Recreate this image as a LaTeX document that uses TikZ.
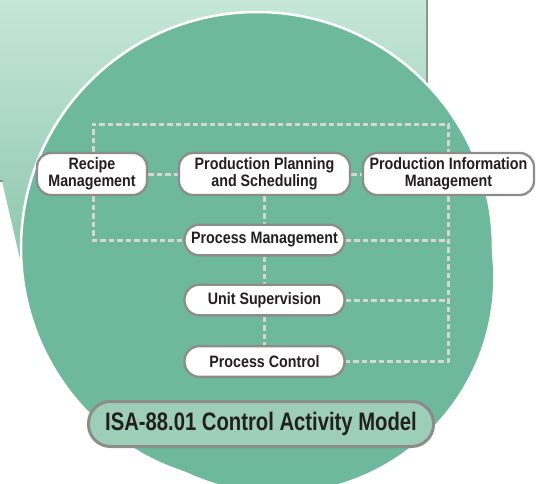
\documentclass[tikz,border=0pt]{standalone}
\usepackage{fontspec}
\newfontfamily\boxfont[FakeStretch=0.865]{Liberation Sans}
\newfontfamily\titlefont[FakeStretch=0.8]{Liberation Sans}
\definecolor{bigGreen}{HTML}{6EB89E}
\definecolor{paleTop}{HTML}{C6E6DA}
\definecolor{paleBottom}{HTML}{88C4AB}
\definecolor{frameGray}{HTML}{8A9892}
\definecolor{boxGray}{HTML}{8C8C8C}
\definecolor{dashGray}{HTML}{D4D7D5}
\definecolor{titleFill}{HTML}{9DCFB8}
\definecolor{textDark}{HTML}{231F20}
\pgfdeclarelayer{backdrop}
\pgfdeclarelayer{links}
\pgfsetlayers{backdrop,links,main}
\tikzset{
  box/.style={draw=boxGray, line width=2.3pt, fill=white, inner sep=0pt,
    align=center, text=textDark,
    font=\boxfont\bfseries\fontsize{16.5}{17.3}\selectfont},
  twoline/.style={box, rounded corners=14pt, minimum height=42pt},
  oneline/.style={box, rounded corners=15pt, minimum height=30.7pt, minimum width=160pt},
  titlebox/.style={draw=boxGray, line width=3pt, fill=titleFill, inner sep=0pt,
    rounded corners=22pt, minimum height=45pt, minimum width=345pt, text=textDark,
    font=\titlefont\bfseries\fontsize{25.3}{30}\selectfont},
  link/.style={draw=dashGray, line width=3pt, dash pattern=on 5.5pt off 3pt}
}
\begin{document}
\begin{tikzpicture}[x=1pt,y=-1pt]
\useasboundingbox (0,0) rectangle (540,483);
\begin{pgfonlayer}{backdrop}
% pale backdrop and wedge
\shade[top color=paleTop, bottom color=paleBottom]
  (0,0) -- (427,0) -- (427,200) -- (200,250) -- (26,285) -- (2,181) -- (0,181) -- cycle;
\draw[frameGray, line width=2pt] (427,0) -- (427,200);
\draw[frameGray, line width=1.5pt] (0,181) -- (3,181);
% big green disc
\fill[bigGreen, draw=white, line width=2.5pt] (257,248) circle[radius=236];
\fill[bigGreen] (278.1,277.4) circle[radius=215];
\end{pgfonlayer}
% nodes
\node[twoline, minimum width=110pt] (rm) at (92,174) {Recipe\\Management};
\node[twoline, minimum width=171pt] (pps) at (264.5,174) {Production Planning\\and Scheduling};
\node[twoline, minimum width=171pt] (pim) at (448.5,174) {Production Information\\Management};
\node[oneline] (pm) at (264.5,240) {Process Management};
\node[oneline] (us) at (264.5,300) {Unit Supervision};
\node[oneline] (pc) at (264.5,361.5) {Process Control};
\node[titlebox] (title) at (261,424) {ISA-88.01 Control Activity Model};
\coordinate (tl) at (93,124);
\coordinate (tr) at (448.5,124);
\coordinate (bl) at (93,240);
\coordinate (br) at (448.5,361.5);
% connectors (behind nodes)
\begin{pgfonlayer}{links}
\path[link] (rm.north -| tl) -- (tl) -- (tr) -- (pim.north);
\path[link] (rm.south -| bl) -- (bl) -- (pm.west);
\path[link] (rm.east) -- (pps.west);
\path[link] (pps.east) -- (pim.west);
\path[link] (pps.south) -- (pm.north);
\path[link] (pm.south) -- (us.north);
\path[link] (us.south) -- (pc.north);
\path[link] (pim.south) -- (br) -- (pc.east);
\path[link] (pm.east) -- (pm.east -| br);
\path[link] (us.east) -- (us.east -| br);
\end{pgfonlayer}
\end{tikzpicture}
\end{document}
